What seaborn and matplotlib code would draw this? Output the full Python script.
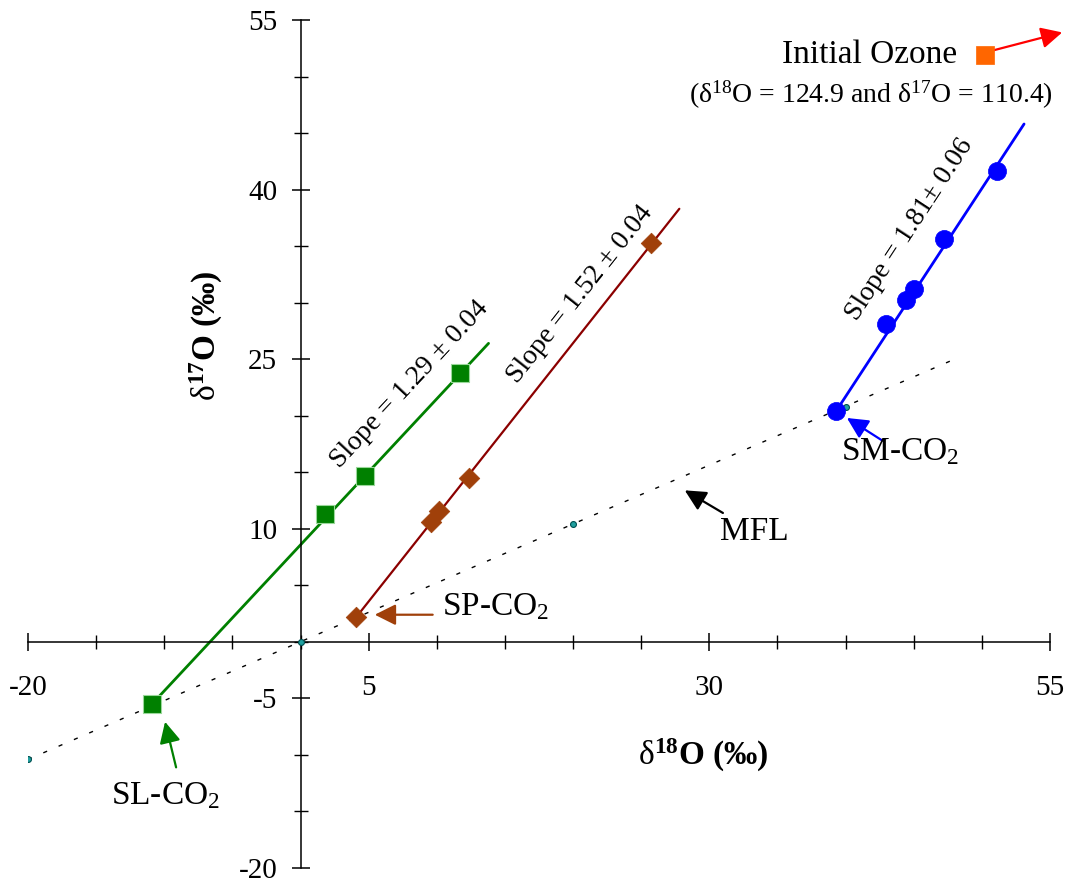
import matplotlib
matplotlib.use("Agg")
import matplotlib.pyplot as plt
import seaborn as sns
import numpy as np

# values (per mil)
sl_x = [-10.9, 1.8, 4.7, 11.7]          # SL-CO2 series (green squares)
sl_y = [-5.5, 11.3, 14.7, 23.8]
sl_fit_x = [-10.9, 13.8]
sl_fit_y = [-5.5, 26.4]

sp_x = [4.1, 9.6, 10.2, 12.4, 25.7]    # SP-CO2 series (brown diamonds)
sp_y = [2.2, 10.6, 11.6, 14.5, 35.3]
sp_fit_x = [4.1, 27.8]
sp_fit_y = [2.2, 38.3]

sm_x = [39.3, 43.0, 44.4, 45.0, 47.2, 51.1]   # SM-CO2 series (blue circles)
sm_y = [20.4, 28.1, 30.2, 31.2, 35.6, 41.6]
sm_fit_x = [39.3, 53.1]
sm_fit_y = [20.4, 45.8]

mfl_x = [-20, 48]                       # mass fractionation line
mfl_y = [-10.4, 25.0]
mfl_pts_x = [-20, 0, 20, 40]
mfl_pts_y = [-10.4, 0, 10.4, 20.8]

ozone_x = [50.2]
ozone_y = [51.9]

slope_labels = ["Slope = 1.29 ± 0.04", "Slope = 1.52 ± 0.04", "Slope = 1.81± 0.06"]

sns.set_theme(style="ticks")
plt.rcParams['font.family'] = ['Liberation Serif', 'DejaVu Serif']
plt.rcParams['mathtext.fontset'] = 'custom'
plt.rcParams['mathtext.rm'] = 'Liberation Serif'
plt.rcParams['mathtext.it'] = 'Liberation Serif:italic'
plt.rcParams['mathtext.bf'] = 'Liberation Serif:bold'
plt.rcParams['axes.unicode_minus'] = False
for k in ['text.color', 'axes.labelcolor', 'xtick.color', 'ytick.color', 'axes.edgecolor']:
    plt.rcParams[k] = 'black'

fig = plt.figure(figsize=(10.68, 8.84), dpi=100)
ax = fig.add_axes([0.0262, 0.0181, 0.9569, 0.9593])
ax.set_xlim(-20, 55)
ax.set_ylim(-20, 55)

# crossing axes at the origin
ax.spines['left'].set_position(('data', 0))
ax.spines['bottom'].set_position(('data', 0))
ax.spines['top'].set_visible(False)
ax.spines['right'].set_visible(False)
for s in ['left', 'bottom']:
    ax.spines[s].set_linewidth(1.1)

ax.set_xticks([-20, 5, 30, 55])
ax.set_xticks(np.arange(-20, 56, 5), minor=True)
ax.set_yticks([-20, -5, 10, 25, 40, 55])
ax.set_yticks(np.arange(-20, 56, 5), minor=True)
ax.tick_params(which='both', bottom=True, left=True, top=False, right=False)
ax.tick_params(which='major', direction='inout', length=13.5, width=1.1, labelsize=21)
ax.tick_params(which='minor', direction='inout', length=10, width=1.0)
ax.tick_params(axis='x', pad=17)
ax.tick_params(axis='y', pad=10)
ax.set_xlabel('')
ax.set_ylabel('')

# MFL
sns.lineplot(x=mfl_x, y=mfl_y, color='black', lw=1.0, linestyle=(0, (3, 9)), sort=False, ax=ax)
sns.scatterplot(x=mfl_pts_x, y=mfl_pts_y, marker='o', s=18, color='#20A0A0', edgecolor='#005050',
                linewidth=0.8, zorder=4, ax=ax)

# fit lines
sns.lineplot(x=sl_fit_x, y=sl_fit_y, color='#008000', lw=2, sort=False, ax=ax)
sns.lineplot(x=sp_fit_x, y=sp_fit_y, color='#8B0000', lw=1.6, sort=False, ax=ax)
sns.lineplot(x=sm_fit_x, y=sm_fit_y, color='#0000FF', lw=2, sort=False, ax=ax)

# data points
sns.scatterplot(x=sl_x, y=sl_y, marker='s', s=150, color='#008000', edgecolor='#9AD89A',
                linewidth=0.8, zorder=5, ax=ax)
sns.scatterplot(x=sp_x, y=sp_y, marker='D', s=110, color='#A0400A', edgecolor='#A0400A',
                linewidth=0.5, zorder=5, ax=ax)
sns.scatterplot(x=sm_x, y=sm_y, marker='o', s=170, color='#0000FF', edgecolor='#0000FF',
                linewidth=0.5, zorder=5, ax=ax)
sns.scatterplot(x=ozone_x, y=ozone_y, marker='s', s=150, color='#FF6600', edgecolor='#FF6600',
                linewidth=0.5, zorder=5, ax=ax)


def screen_angle(xs, ys):
    p0 = ax.transData.transform((xs[0], ys[0]))
    p1 = ax.transData.transform((xs[1], ys[1]))
    return np.degrees(np.arctan2(p1[1] - p0[1], p1[0] - p0[0]))


# slope labels
ax.text(8.0, 22.8, slope_labels[0], fontsize=20, rotation=screen_angle(sl_fit_x, sl_fit_y),
        ha='center', va='center', rotation_mode='anchor')
ax.text(20.5, 30.7, slope_labels[1], fontsize=20, rotation=screen_angle(sp_fit_x, sp_fit_y),
        ha='center', va='center', rotation_mode='anchor')
ax.text(44.7, 36.5, slope_labels[2], fontsize=20, rotation=screen_angle(sm_fit_x, sm_fit_y),
        ha='center', va='center', rotation_mode='anchor')

# labels with arrows
def arrow(tip, tail, color):
    ax.annotate('', xy=tip, xytext=tail, annotation_clip=False,
                arrowprops=dict(arrowstyle='-|>', color=color, lw=1.6, mutation_scale=32,
                                shrinkA=0, shrinkB=0))


arrow((5.45, 2.4), (9.7, 2.4), '#A0400A')
ax.text(10.4, 2.4, 'SP-CO$_2$', fontsize=24, ha='left', va='baseline')

arrow((-9.94, -7.07), (-9.13, -11.1), '#008000')
ax.text(-9.9, -14.4, 'SL-CO$_2$', fontsize=24, ha='center', va='baseline')

arrow((40.1, 19.8), (42.7, 17.8), '#0000FF')
ax.text(44.0, 16.1, 'SM-CO$_2$', fontsize=24, ha='center', va='baseline')

arrow((28.2, 13.4), (31.0, 11.4), 'black')
ax.text(33.3, 9.0, 'MFL', fontsize=24, ha='center', va='baseline')

arrow((55.9, 53.9), (50.8, 52.3), '#FF0000')
ax.text(48.2, 51.2, 'Initial Ozone', fontsize=24, ha='right', va='baseline')
ax.text(41.9, 47.7, r'($\mathrm{\delta}^{18}$O = 124.9 and $\mathrm{\delta}^{17}$O = 110.4)',
        fontsize=20, ha='center', va='baseline')

# axis titles
ax.text(29.6, -10.9, r'$\mathrm{\delta}^{\mathbf{18}}$O (‰)', fontsize=24, fontweight='bold',
        ha='center', va='baseline')
ax.text(-6.9, 27.1, r'$\mathrm{\delta}^{\mathbf{17}}$O (‰)', fontsize=24, fontweight='bold',
        ha='center', va='center', rotation=90)

plt.savefig("out.png", dpi=100)
